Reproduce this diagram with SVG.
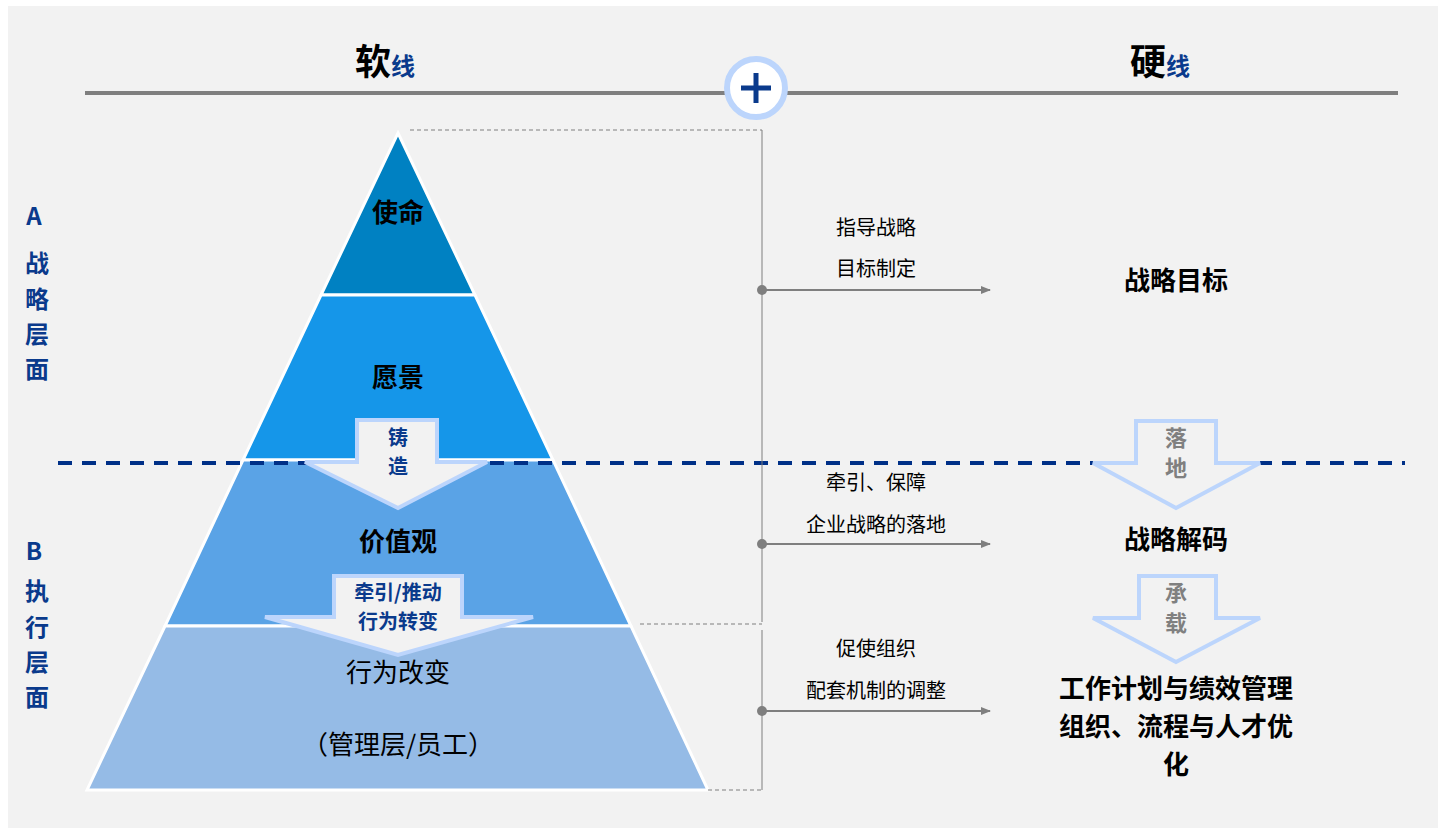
<svg xmlns="http://www.w3.org/2000/svg" width="1441" height="833" viewBox="0 0 1441 833">
<defs>
<marker id="ah" markerWidth="10" markerHeight="10" refX="9" refY="5" orient="auto" markerUnits="userSpaceOnUse"><path d="M0,1 L10,5 L0,9 z" fill="#7f7f7f"/></marker>
</defs>
<style>
text{font-family:"Noto Sans CJK SC","Liberation Sans",sans-serif;text-anchor:middle}
.lvl{font-size:26px;font-weight:bold;fill:#000}
.blk{font-size:26px;fill:#000}
.side{font-size:24px;font-weight:bold;fill:#0a3a8c}
.arw{fill:#f2f2f2;stroke:#bcd5fc;stroke-width:4}
.at{font-size:20px;font-weight:bold;fill:#0a3a8c}
.ag{font-size:22px;font-weight:bold;fill:#808080}
.lab{font-size:20px;fill:#000}
.conn{stroke:#7f7f7f;stroke-width:2;fill:none}
.dot{stroke:#7f7f7f;stroke-width:1;stroke-dasharray:4 3;fill:none}
</style>
<rect x="0" y="0" width="1441" height="833" fill="#fff"/>
<rect x="8" y="6" width="1430" height="822" fill="#f2f2f2"/>
<g id="header">
<line x1="85" y1="93" x2="1398" y2="93" stroke="#7f7f7f" stroke-width="4"/>
<text x="385" y="75" font-size="36" font-weight="bold" fill="#000">软<tspan font-size="24" fill="#0a3a8c">线</tspan></text>
<text x="1160" y="75" font-size="36" font-weight="bold" fill="#000">硬<tspan font-size="24" fill="#0a3a8c">线</tspan></text>
<circle cx="756" cy="88" r="29" fill="#fff" stroke="#bcd5fc" stroke-width="6"/>
<path d="M741,88 H771 M756,73 V103" stroke="#0a3a8c" stroke-width="5"/>
</g>
<g id="side">
<text x="34" y="225" class="side">A</text>
<text x="37" y="272" class="side">战</text><text x="37" y="308" class="side">略</text><text x="37" y="343" class="side">层</text><text x="37" y="378" class="side">面</text>
<text x="34" y="560" class="side">B</text>
<text x="37" y="600" class="side">执</text><text x="37" y="636" class="side">行</text><text x="37" y="671" class="side">层</text><text x="37" y="706" class="side">面</text>
</g>
<g id="pyramid" stroke="#fff" stroke-width="3">
<polygon points="398,133 475,295 321,295" fill="#0081c2"/>
<polygon points="321,295 475,295 553,460 243,460" fill="#1596e9"/>
<polygon points="243,460 553,460 631,626 165,626" fill="#5aa3e6"/>
<polygon points="165,626 631,626 708,790 87,790" fill="#95bbe6"/>
</g>
<g id="labels">
<text x="398" y="222" class="lvl">使命</text>
<text x="398" y="387" class="lvl">愿景</text>
<text x="398" y="551" class="lvl">价值观</text>
<text x="398" y="682" class="blk">行为改变</text>
<text x="398" y="754" class="blk">（管理层/员工）</text>
</g>
<g id="dash"><line x1="58" y1="463" x2="1405" y2="463" stroke="#003087" stroke-width="4" stroke-dasharray="14 10"/></g>
<g id="arrow-zhuzao">
<polygon class="arw" points="357,420 437,420 437,462 487,462 398,508 305,462 357,462"/>
<text x="398" y="445" class="at">铸</text><text x="398" y="474" class="at">造</text>
</g>
<g id="arrow-qianyin">
<polygon class="arw" points="334,576 462,576 462,617 533,617 398,655 265,617 334,617"/>
<text x="398" y="600" class="at">牵引/推动</text><text x="398" y="629" class="at">行为转变</text>
</g>
<g id="arrow-luodi">
<polygon class="arw" points="1136,421 1216,421 1216,463 1260,463 1176,508 1093,463 1136,463"/>
<text x="1176" y="446" class="ag">落</text><text x="1176" y="476" class="ag">地</text>
</g>
<g id="arrow-chengzai">
<polygon class="arw" points="1139,576 1216,576 1216,618 1260,618 1176,662 1093,618 1139,618"/>
<text x="1176" y="601" class="ag">承</text><text x="1176" y="631" class="ag">载</text>
</g>
<g id="targets">
<text x="1176" y="290" class="lvl" font-weight="bold">战略目标</text>
<text x="1176" y="549" class="lvl">战略解码</text>
<text x="1176" y="698" class="lvl" font-size="30">工作计划与绩效管理</text>
<text x="1176" y="736" class="lvl" font-size="30">组织、流程与人才优</text>
<text x="1176" y="774" class="lvl" font-size="30">化</text>
</g>
<g id="connectors">
<line class="dot" x1="410" y1="130" x2="762" y2="130"/>
<line class="dot" x1="640" y1="624" x2="762" y2="624"/>
<line class="dot" x1="708" y1="790" x2="762" y2="790"/>
<line x1="762" y1="130" x2="762" y2="622" stroke="#7f7f7f" stroke-width="1"/>
<line x1="762" y1="630" x2="762" y2="790" stroke="#7f7f7f" stroke-width="1"/>
<circle cx="762" cy="290" r="5" fill="#7f7f7f"/><line class="conn" x1="762" y1="290" x2="990" y2="290" marker-end="url(#ah)"/>
<circle cx="762" cy="544" r="5" fill="#7f7f7f"/><line class="conn" x1="762" y1="544" x2="990" y2="544" marker-end="url(#ah)"/>
<circle cx="762" cy="711" r="5" fill="#7f7f7f"/><line class="conn" x1="762" y1="711" x2="990" y2="711" marker-end="url(#ah)"/>
<text x="876" y="235" class="lab">指导战略</text><text x="876" y="276" class="lab">目标制定</text>
<text x="876" y="490" class="lab">牵引、保障</text><text x="876" y="532" class="lab">企业战略的落地</text>
<text x="876" y="656" class="lab">促使组织</text><text x="876" y="698" class="lab">配套机制的调整</text>
</g>
</svg>
